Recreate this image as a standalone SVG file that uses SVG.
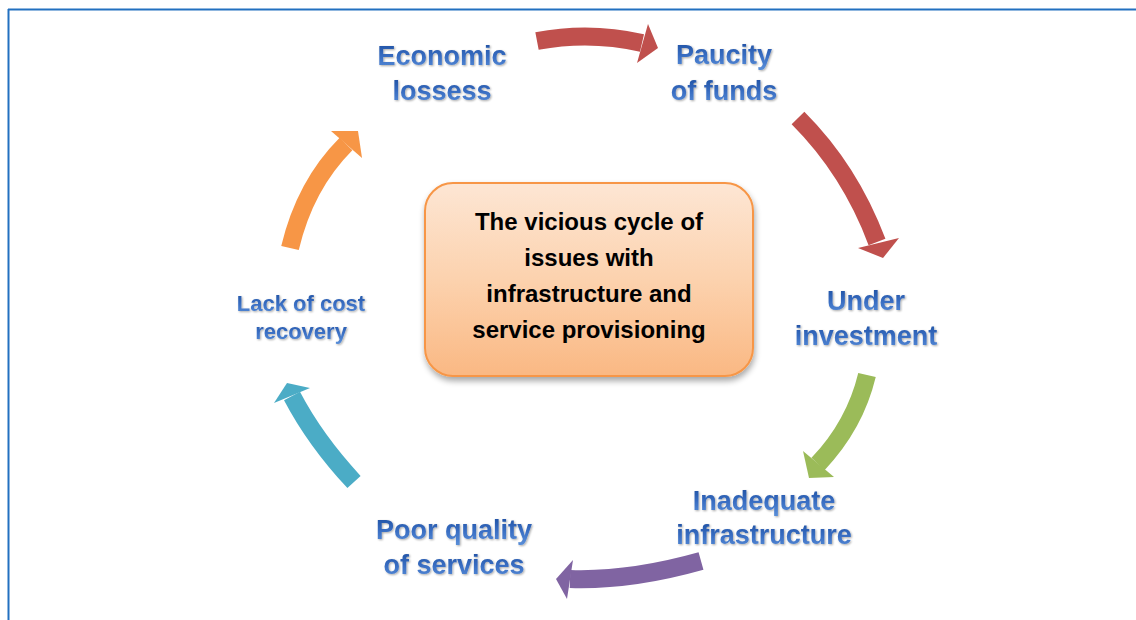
<svg xmlns="http://www.w3.org/2000/svg" width="1136" height="620" viewBox="0 0 1136 620">
  <defs>
    <linearGradient id="boxGrad" x1="0" y1="0" x2="0" y2="1">
      <stop offset="0" stop-color="#fde6d4"/>
      <stop offset="0.5" stop-color="#fcd2ae"/>
      <stop offset="1" stop-color="#fab883"/>
    </linearGradient>
    <linearGradient id="lblGrad" x1="0" y1="0" x2="0" y2="1">
      <stop offset="0" stop-color="#1d4e9f"/>
      <stop offset="0.55" stop-color="#3a6fc4"/>
      <stop offset="1" stop-color="#5a8fd8"/>
    </linearGradient>
    <filter id="shadow" x="-10%" y="-10%" width="125%" height="130%">
      <feGaussianBlur in="SourceAlpha" stdDeviation="3"/>
      <feOffset dx="1" dy="4" result="b"/>
      <feComponentTransfer><feFuncA type="linear" slope="0.35"/></feComponentTransfer>
      <feMerge><feMergeNode/><feMergeNode in="SourceGraphic"/></feMerge>
    </filter>
    <filter id="tshadow" x="-5%" y="-20%" width="110%" height="150%">
      <feGaussianBlur in="SourceAlpha" stdDeviation="0.8"/>
      <feOffset dx="0.5" dy="1" result="b"/>
      <feComponentTransfer><feFuncA type="linear" slope="0.35"/></feComponentTransfer>
      <feMerge><feMergeNode/><feMergeNode in="SourceGraphic"/></feMerge>
    </filter>
  </defs>
  <style>
    .lbl { font-family: "Liberation Sans", Arial, sans-serif; font-weight: bold; font-size: 27px; fill: url(#lblGrad); text-anchor: middle; filter: url(#tshadow); }
    .lbl-s { font-size: 22px; }
    .ctr { font-family: "Liberation Sans", Arial, sans-serif; font-weight: bold; font-size: 24px; fill: #000; text-anchor: middle; }
    .body { fill: none; stroke-width: 18; stroke-linecap: butt; }
  </style>
  <rect x="0" y="0" width="1136" height="620" fill="#fff"/>
  <g id="frame" fill="none" stroke="#2270c0" stroke-width="2">
    <line x1="8" y1="9.5" x2="1136" y2="9.5"/>
    <line x1="8.5" y1="9" x2="8.5" y2="620"/>
  </g>

  <g id="connectors">
    <g id="arrow-1">
      <path class="body" stroke="#c0504d" d="M537,41 Q590,31 642,43"/>
      <polygon fill="#c0504d" points="648,24 658,48 637,63"/>
    </g>
    <g id="arrow-2">
      <path class="body" stroke="#c0504d" d="M798,118 Q850,170 877,242"/>
      <polygon fill="#c0504d" points="858,248 899,238 883,258"/>
    </g>
    <g id="arrow-3">
      <path class="body" stroke="#9bbb59" d="M867,375 Q855,425 818,464"/>
      <polygon fill="#9bbb59" points="803,451 834,477 809,478"/>
    </g>
    <g id="arrow-4">
      <path class="body" stroke="#8064a2" d="M701,561 Q630,581 570,579"/>
      <polygon fill="#8064a2" points="573,560 556,579 567,599"/>
    </g>
    <g id="arrow-5">
      <path class="body" stroke="#4bacc6" d="M354,482 Q315,440 292,396"/>
      <polygon fill="#4bacc6" points="274,403 310,388 287,383"/>
    </g>
    <g id="arrow-6">
      <path class="body" stroke="#f79646" d="M290,248 Q305,185 346,144"/>
      <polygon fill="#f79646" points="331,131 358,131 362,158"/>
    </g>
  </g>

  <g id="center-box">
    <rect x="425" y="183" width="328" height="193" rx="28" ry="28" fill="url(#boxGrad)" stroke="#f79646" stroke-width="2" filter="url(#shadow)"/>
    <text class="ctr" x="589" y="230">The vicious cycle of</text>
    <text class="ctr" x="589" y="266">issues with</text>
    <text class="ctr" x="589" y="302">infrastructure and</text>
    <text class="ctr" x="589" y="338">service provisioning</text>
  </g>

  <g id="node-economic-losses">
    <text class="lbl" x="442" y="65">Economic</text>
    <text class="lbl" x="442" y="100">lossess</text>
  </g>
  <g id="node-paucity-of-funds">
    <text class="lbl" x="724" y="64">Paucity</text>
    <text class="lbl" x="724" y="100">of funds</text>
  </g>
  <g id="node-under-investment">
    <text class="lbl" x="866" y="310">Under</text>
    <text class="lbl" x="866" y="345">investment</text>
  </g>
  <g id="node-inadequate-infrastructure">
    <text class="lbl" x="764" y="510">Inadequate</text>
    <text class="lbl" x="764" y="544">infrastructure</text>
  </g>
  <g id="node-poor-quality">
    <text class="lbl" x="454" y="539">Poor quality</text>
    <text class="lbl" x="454" y="574">of services</text>
  </g>
  <g id="node-lack-of-cost-recovery">
    <text class="lbl lbl-s" x="301" y="311">Lack of cost</text>
    <text class="lbl lbl-s" x="301" y="339">recovery</text>
  </g>
</svg>
